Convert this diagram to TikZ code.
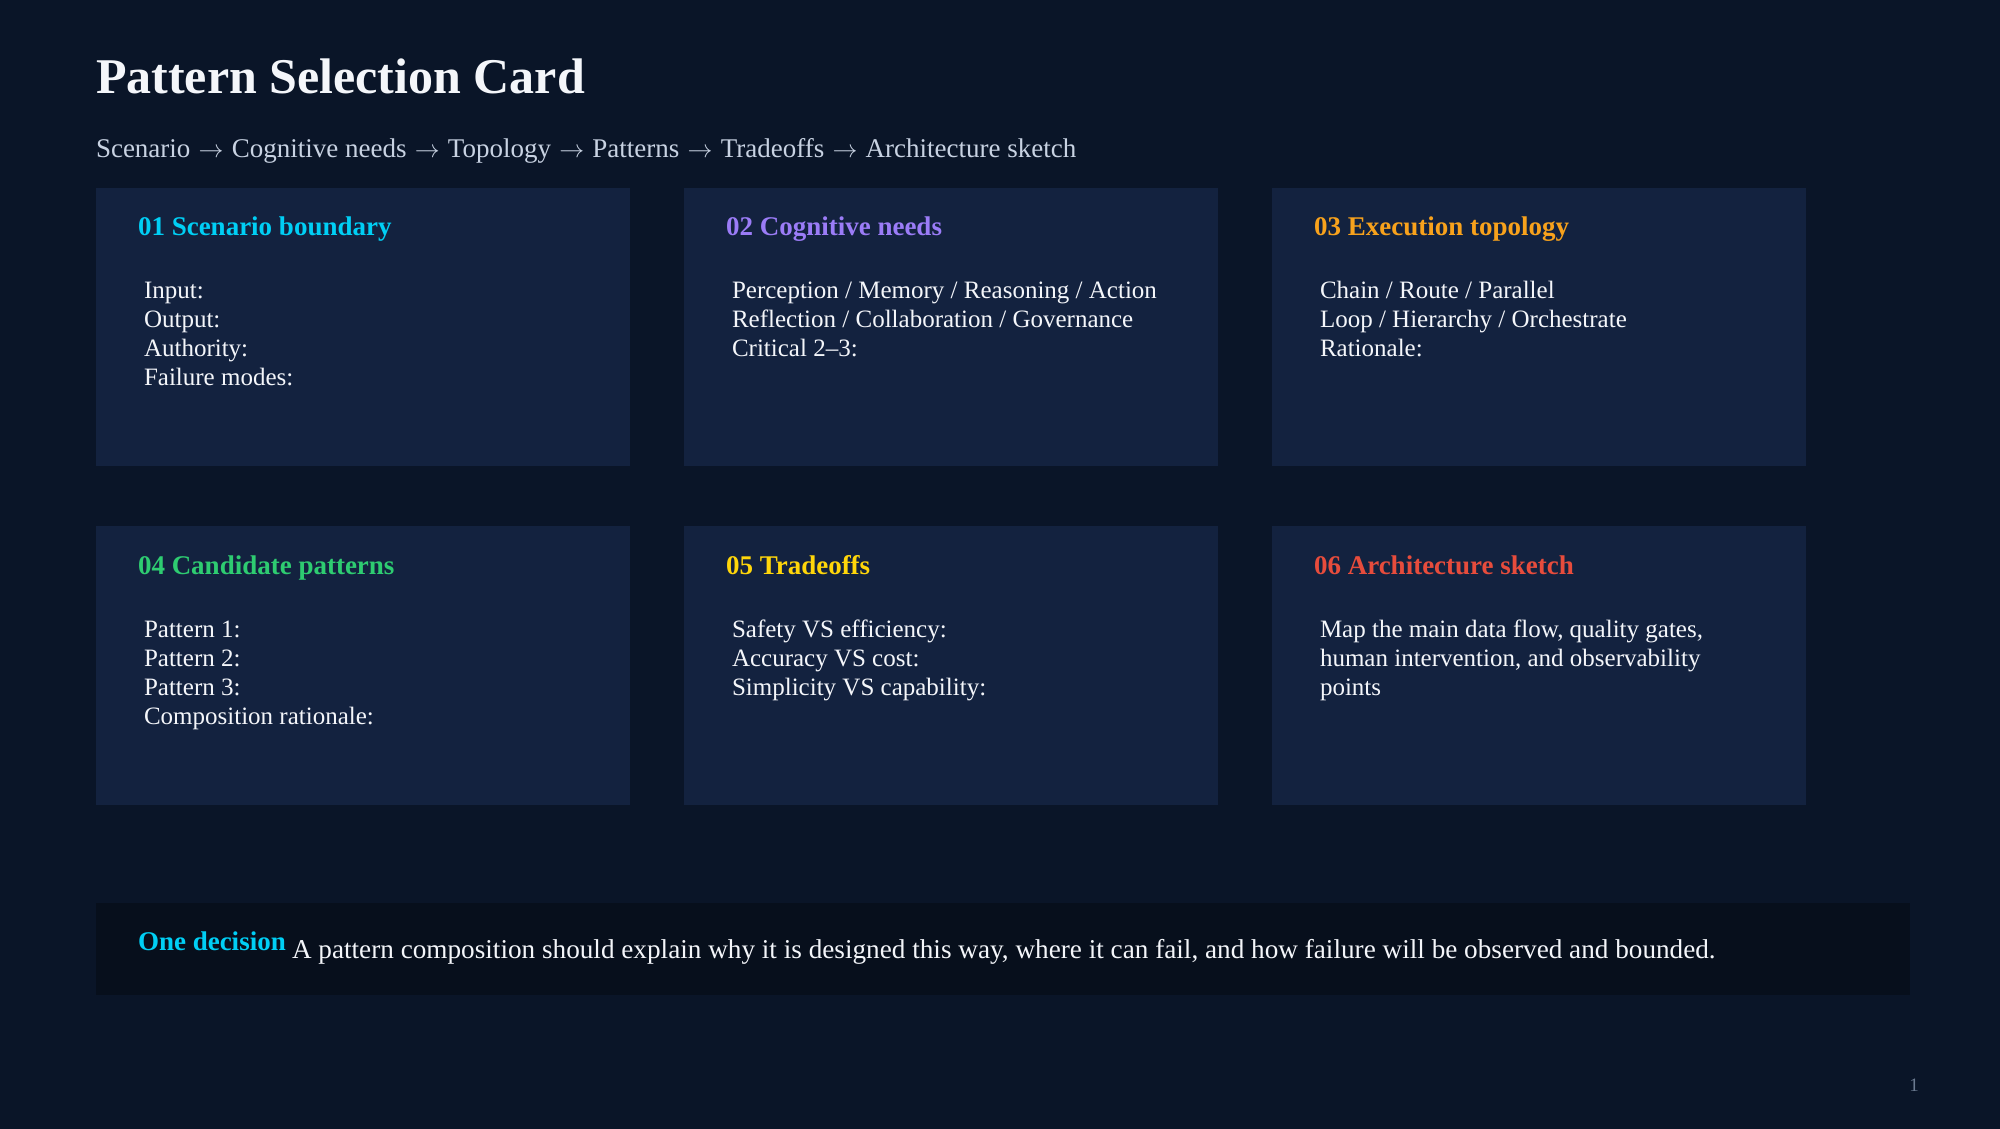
\documentclass[tikz,border=0pt]{standalone}
\usepackage{fontspec}
\setmainfont{Liberation Serif}
\definecolor{bgc}{HTML}{0A1528}
\definecolor{boxc}{HTML}{13223F}
\definecolor{darkc}{HTML}{070F1C}
\definecolor{fgc}{HTML}{F4F6FA}
\definecolor{subc}{HTML}{C8D2E2}
\definecolor{pagec}{HTML}{6B7A90}
\definecolor{cyanc}{HTML}{00CFF5}
\definecolor{purpc}{HTML}{9B7CF7}
\definecolor{orangec}{HTML}{F8A21C}
\definecolor{greenc}{HTML}{2ECC71}
\definecolor{yellowc}{HTML}{FFD60A}
\definecolor{redc}{HTML}{E74C3C}
\newcommand{\flowarrow}{\hspace{1.5pt}$\rightarrow$\hspace{1.5pt}}
\begin{document}
\begin{tikzpicture}[x=1pt,y=-1pt,
  txt/.style={inner sep=0pt, outer sep=0pt, anchor=base west, text=fgc},
  titletxt/.style={txt, font=\bfseries\fontsize{50}{60}\selectfont},
  subtxt/.style={txt, text=subc, font=\fontsize{27}{31}\selectfont},
  headtxt/.style={txt, font=\bfseries\fontsize{27}{32}\selectfont},
  bodytxt/.style={txt, font=\fontsize{25}{29}\selectfont},
  notetxt/.style={txt, font=\fontsize{27.2}{32}\selectfont},
  pagetxt/.style={txt, anchor=base, text=pagec, font=\fontsize{19}{22}\selectfont},
  card/.style={fill=boxc},
  banner/.style={fill=darkc}]
\fill[bgc] (0,0) rectangle (2000,1129);
\useasboundingbox (0,0) rectangle (2000,1129);

% title and subtitle
\node[titletxt] (title) at (96,93.3) {Pattern Selection Card};
\node[subtxt] (subtitle) at (96,157.3) {Scenario \flowarrow{} Cognitive needs \flowarrow{} Topology \flowarrow{} Patterns \flowarrow{} Tradeoffs \flowarrow{} Architecture sketch};

% cards
\fill[card] (96,187.5) rectangle (630,465.5);
\fill[card] (684,187.5) rectangle (1218,465.5);
\fill[card] (1272,187.5) rectangle (1806,465.5);
\fill[card] (96,525.5) rectangle (630,804.5);
\fill[card] (684,525.5) rectangle (1218,804.5);
\fill[card] (1272,525.5) rectangle (1806,804.5);

% card 1
\node[headtxt, text=cyanc] (h1) at (138,235.5) {01 Scenario boundary};
\node[bodytxt] (b1a) at (144,298.5) {Input:};
\node[bodytxt] (b1b) at (144,327.6) {Output:};
\node[bodytxt] (b1c) at (144,356.7) {Authority:};
\node[bodytxt] (b1d) at (144,385.8) {Failure modes:};

% card 2
\node[headtxt, text=purpc] (h2) at (726,235.5) {02 Cognitive needs};
\node[bodytxt] (b2a) at (732,298.5) {Perception / Memory / Reasoning / Action};
\node[bodytxt] (b2b) at (732,327.6) {Reflection / Collaboration / Governance};
\node[bodytxt] (b2c) at (732,356.7) {Critical 2–3:};

% card 3
\node[headtxt, text=orangec] (h3) at (1314,235.5) {03 Execution topology};
\node[bodytxt] (b3a) at (1320,298.5) {Chain / Route / Parallel};
\node[bodytxt] (b3b) at (1320,327.6) {Loop / Hierarchy / Orchestrate};
\node[bodytxt] (b3c) at (1320,356.7) {Rationale:};

% card 4
\node[headtxt, text=greenc] (h4) at (138,574) {04 Candidate patterns};
\node[bodytxt] (b4a) at (144,637) {Pattern 1:};
\node[bodytxt] (b4b) at (144,666.1) {Pattern 2:};
\node[bodytxt] (b4c) at (144,695.2) {Pattern 3:};
\node[bodytxt] (b4d) at (144,724.3) {Composition rationale:};

% card 5
\node[headtxt, text=yellowc] (h5) at (726,574) {05 Tradeoffs};
\node[bodytxt] (b5a) at (732,637) {Safety VS efficiency:};
\node[bodytxt] (b5b) at (732,666.1) {Accuracy VS cost:};
\node[bodytxt] (b5c) at (732,695.2) {Simplicity VS capability:};

% card 6
\node[headtxt, text=redc] (h6) at (1314,574) {06 Architecture sketch};
\node[bodytxt] (b6a) at (1320,637) {Map the main data flow, quality gates,};
\node[bodytxt] (b6b) at (1320,666.1) {human intervention, and observability};
\node[bodytxt] (b6c) at (1320,695.2) {points};

% decision banner
\fill[banner] (96,903) rectangle (1910,995);
\node[headtxt, text=cyanc] (od) at (138,950.7) {One decision};
\node[notetxt] (sent) at (292,958.7) {A pattern composition should explain why it is designed this way, where it can fail, and how failure will be observed and bounded.};

% page number
\node[pagetxt] (page) at (1914,1091) {1};
\end{tikzpicture}
\end{document}
